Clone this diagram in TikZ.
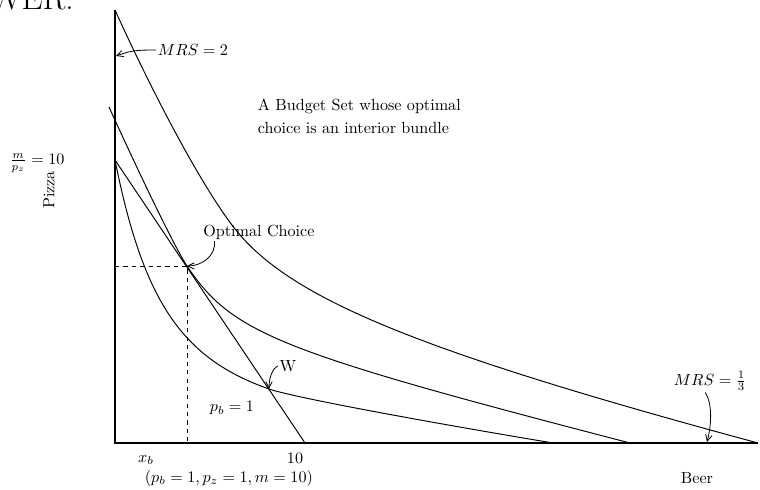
\documentclass[tikz,border=0pt]{standalone}
\usepackage{amsmath}
\usetikzlibrary{arrows.meta}
\tikzset{
  axis/.style={line width=0.8pt},
  curve/.style={line width=0.6pt},
  guide/.style={dash pattern=on 2.6pt off 2.6pt, line width=0.5pt},
  lab/.style={inner sep=1pt},
  arr/.style={-{Straight Barb[length=4pt,width=4pt]}, line width=0.5pt},
}
\begin{document}
\begin{tikzpicture}[x=0.62pt, y=-0.62pt]
    \useasboundingbox (0,0) rectangle (760,490);
    % axes, budget line and the optimal bundle
    \coordinate (O) at (115,443);
    \coordinate (ytop) at (115,10);
    \coordinate (xend) at (758,443);
    \coordinate (A) at (115,160);
    \coordinate (B) at (305,443);
    \coordinate (E) at (187,266);
    \coordinate (W) at (269,389);
    \coordinate (t2) at (116,56);
    \coordinate (t3) at (707,442);
    \draw[axis] (ytop) -- (O) -- (xend);
    \draw[curve] (A) -- (B);
    \draw[guide] (O |- E) -- (E) -- (E |- O);
    % indifference curves
    \draw[curve] (ytop) .. controls (161.4,112.2) and (211.4,202.2) .. (240,235)
                        .. controls (298,301.8) and (427.6,353.8) .. (xend);
    \draw[curve] (109,107) .. controls (145.2,186.6) and (176.4,250.2) .. (E)
                           .. controls (232.3,333.5) and (276.6,351.2) .. (630,443);
    \draw[curve] (A) .. controls (143.3,301.3) and (181.8,358.3) .. (W)
                     .. controls (290.5,396.5) and (404.1,418.1) .. (553,443);
    % labels
    \node[font=\huge, anchor=base east, inner sep=0pt] (head) at (74,10) {WER.};
    \node[lab] (mrs2) at (193,50) {$MRS=2$};
    \node[lab, align=left, anchor=north west] (title) at (256,97) {A Budget Set whose optimal\\[2pt]choice is an interior bundle};
    \node[lab] (mpz) at (37,163) {$\frac{m}{p_z}=10$};
    \node[lab, rotate=90] (pizza) at (49,190) {Pizza};
    \node[lab] (optc) at (259,232) {Optimal Choice};
    \node[lab] (wlab) at (288,366) {W};
    \node[lab] (pb) at (232,408) {$p_b=1$};
    \node[lab] (xb) at (146,460) {$x_b$};
    \node[lab] (ten) at (295,458) {10};
    \node[lab, anchor=west] (prices) at (143,478) {$(p_b=1, p_z=1, m=10)$};
    \node[lab] (beer) at (697,478) {Beer};
    \node[lab] (mrs3) at (710,381) {$MRS=\frac{1}{3}$};
    % pointers
    \draw[arr] (mrs2.west) .. controls +(-22,0) and +(14,-5) .. (t2);
    \draw[arr] ([xshift=8pt]optc.south west) .. controls +(2,14) and +(15,0) .. (E);
    \draw[arr] (wlab.west) .. controls +(-6,3) and +(0,-10) .. (W);
    \draw[arr] ([xshift=-3pt]mrs3.south) .. controls +(8,12) and +(4,-15) .. (t3);
\end{tikzpicture}
\end{document}
